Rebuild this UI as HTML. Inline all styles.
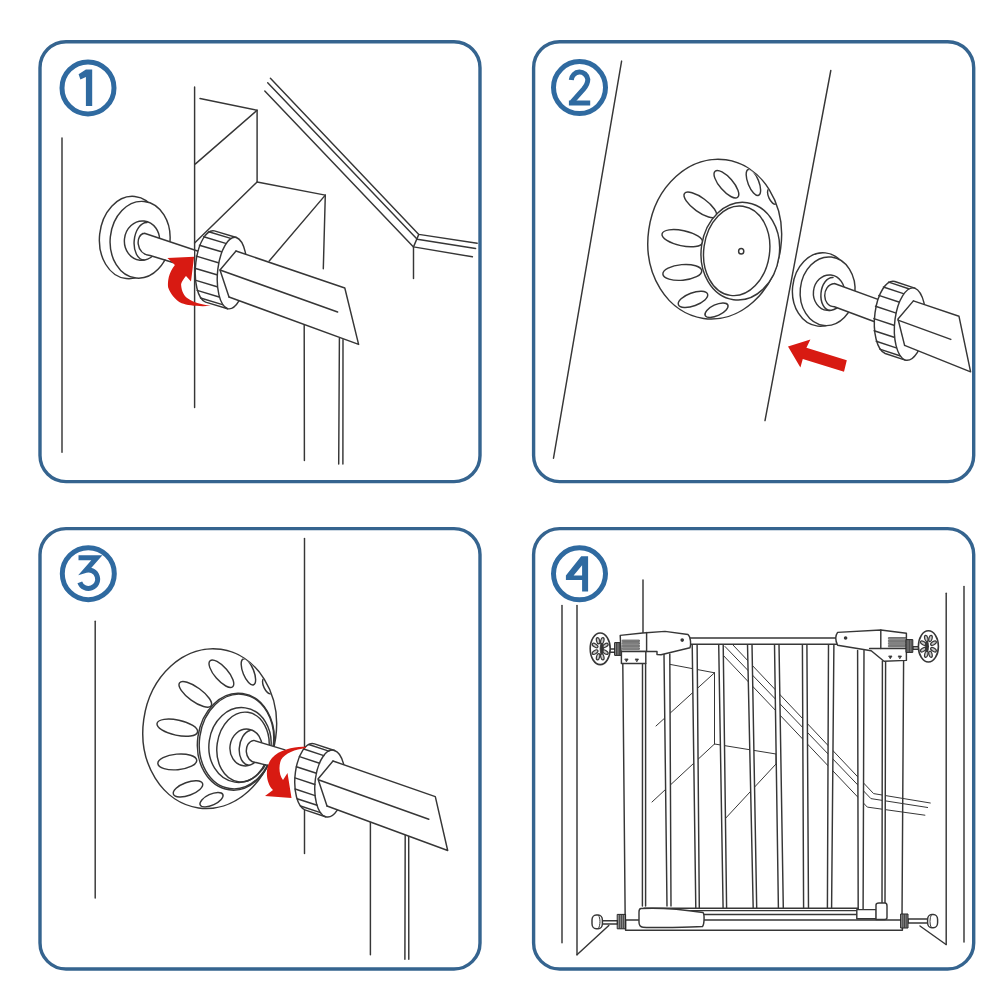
<!DOCTYPE html>
<html><head><meta charset="utf-8"><style>
html,body{margin:0;padding:0;background:#fff;width:1000px;height:1000px;overflow:hidden}
svg{display:block}
</style></head><body>
<svg width="1000" height="1000" viewBox="0 0 1000 1000">
<rect width="1000" height="1000" fill="#fff"/>
<g fill="none" stroke="#35648f" stroke-width="3.4">
<rect x="40" y="41.7" width="440.0" height="439.9" rx="26" ry="26"/>
<rect x="533.6" y="41.7" width="440.1" height="439.9" rx="26" ry="26"/>
<rect x="40" y="528.6" width="440.0" height="440.4" rx="26" ry="26"/>
<rect x="533.6" y="528.6" width="440.1" height="440.4" rx="26" ry="26"/>
<circle cx="88" cy="87.9" r="26" stroke-width="5" stroke="#2f6aa0"/>
<circle cx="579.5" cy="87.6" r="26" stroke-width="5" stroke="#2f6aa0"/>
<circle cx="88.3" cy="573.7" r="26" stroke-width="5" stroke="#2f6aa0"/>
<circle cx="579.5" cy="573.8" r="26" stroke-width="5" stroke="#2f6aa0"/>
</g>
<g fill="#2f6aa0" stroke="none">
<path d="M85.9,69.4 H92.2 V106.0 H85.9 V76.9 L80.4,79.5 L78.6,74.30000000000001 Z"/>
</g>
<g fill="none" stroke="#2f6aa0" stroke-width="5" stroke-linejoin="miter" stroke-miterlimit="6">
<path transform="translate(579.5 87.6)" d="M-8.2,-7.6 A8.3,8.6 0 0 1 8.3,-8.2 C8.3,-4.5 6.8,-2 4.2,1.2 L-7.6,14.6" stroke-linecap="butt"/>
<path transform="translate(579.5 87.6)" fill="#2f6aa0" stroke="none" d="M-10.6,12.9 H10.7 V17.9 H-10.6 Z M-10.6,12.9 L-4.6,12.9 L-10.6,17.9 Z"/>
<path transform="translate(88.3 573.7)" d="M-9.8,-16 H8.6 L-2.5,-3.3 A9.2,9.2 0 1 1 -8.5,8.6"/>
</g>
<path fill="#2f6aa0" fill-rule="evenodd" transform="translate(579.5 573.8)" d="M1.7,-17.6 H8.6 V17.7 H2.6 V6.2 H-13.6 V1.6 Z M2.6,-8.6 V1.6 H-5.9 Z"/>
<g fill="none" stroke="#363636" stroke-width="1.45" stroke-linecap="round" stroke-linejoin="round">
<path d="M62.0,138.0 L62.0,452.2"/>
<path d="M194.6,87.0 L194.6,407.6"/>
<path d="M200.0,98.5 L257.1,110.3 L257.1,182.0 L325.3,195.1 L323.3,268.8"/>
<path d="M257.1,110.3 L195.2,164.1"/>
<path d="M257.1,182.0 L194.6,243.0"/>
<path d="M325.3,195.1 L269.2,261.0"/>
<path d="M270.4,78.3 L418.8,234.4 L477.2,243.2"/>
<path d="M267.7,82.8 L417.2,239.2 L475.6,248.5"/>
<path d="M264.8,91.1 L413.5,246.9 L472.4,256.8"/>
<path d="M418.8,234.4 L413.5,246.9"/>
<path d="M413.5,246.9 L413.5,278.4"/>
<path d="M304.2,325.2 L304.4,460.5"/>
<path d="M339.4,338.4 L338.7,464.0"/>
<path d="M343.0,339.6 L342.9,464.0"/>
<ellipse cx="130.5" cy="237.5" rx="31.0" ry="41.3" transform="rotate(6 130.5 237.5)" fill="#fff"/>
<ellipse cx="140.1" cy="239.8" rx="29.9" ry="38.5" transform="rotate(6 140.1 239.8)" fill="#fff"/>
<ellipse cx="142.0" cy="240.6" rx="17.6" ry="19.7" transform="rotate(6 142.0 240.6)"/>
<path d="M147,222.5 A11,18.3 6 0 0 144,260"/>
<path d="M144.4,233.2 L194,249.7 L194,267 L150.1,255.5 C135,254 135.5,234 144.4,233.2 Z" fill="#fff" stroke="none"/>
<path d="M144.4,233.2 L200.5,252 M150.1,255.5 L173,262.5 M144.4,233.2 C135.5,234 135,254 150.1,255.5"/>
<path d="M214.4,230.9 A15.0,36.0 5 0 0 205.6,302.1 L227.6,308.7 A15.0,36.0 5 0 0 236.4,237.5 Z" fill="#fff"/>
<path d="M236.4,237.5 A15.0,36.0 5 0 0 227.6,308.7"/>
<path d="M208.7,231.8 L230.7,238.4"/>
<path d="M203.7,236.8 L225.7,243.4"/>
<path d="M199.4,245.2 L221.4,251.8"/>
<path d="M196.3,256.1 L218.3,262.7"/>
<path d="M194.8,268.2 L216.8,274.8"/>
<path d="M195.1,280.1 L217.1,286.7"/>
<path d="M197.1,290.4 L219.1,297.0"/>
<path d="M200.5,298.0 L222.5,304.6"/>
<path d="M236,251 L344.8,288 L358.6,344.4 L229,297 Z" fill="#fff" stroke="none"/>
<path d="M236.0,251.0 L344.8,288.0 L358.6,344.4 L229.0,297.0"/>
<path d="M220.0,270.0 L337.6,312.0"/>
<path d="M236.0,251.0 L220.0,270.0 L229.0,297.0"/>
</g>
<path fill="#d81a12" d="M194.1,256.8 L191,281.6 L186,276 C183.6,278.5 181,283 181.1,284.7 C181.5,291 184,296 187.9,298.4 C193,302 200,304 210.8,305.8 C200,307 188,305.5 181.7,303.3 C175,300 170,293 168.1,287.2 C167.5,281 168.5,273 174.9,264.9 L167.4,258.1 Z"/>
<g fill="none" stroke="#363636" stroke-width="1.45" stroke-linecap="round" stroke-linejoin="round">
<path d="M621.6,61.1 L553.5,458.2"/>
<path d="M830.8,70.5 L765.0,420.6"/>
<defs><clipPath id="cup2"><ellipse cx="714.7" cy="239.1" rx="66" ry="79.5" transform="rotate(8 714.7 239.1)"/></clipPath><clipPath id="cup3"><ellipse cx="209.7" cy="728.6" rx="66" ry="79.5" transform="rotate(8 209.7 728.6)"/></clipPath></defs>
<ellipse cx="714.7" cy="239.1" rx="66.6" ry="80.1" transform="rotate(8 714.7 239.1)"/>
<g clip-path="url(#cup2)">
<ellipse cx="726.4" cy="184.2" rx="17.2" ry="6.7" transform="rotate(49 726.4 184.2)"/>
<ellipse cx="753.4" cy="182.4" rx="13.9" ry="5.4" transform="rotate(68 753.4 182.4)"/>
<ellipse cx="772.5" cy="196.5" rx="8.5" ry="3.8" transform="rotate(65 772.5 196.5)"/>
<ellipse cx="700.3" cy="204.9" rx="19.5" ry="7.0" transform="rotate(36 700.3 204.9)"/>
<ellipse cx="682.3" cy="238.2" rx="20.7" ry="7.6" transform="rotate(12 682.3 238.2)"/>
<ellipse cx="682.3" cy="272.4" rx="19.5" ry="7.8" transform="rotate(-5 682.3 272.4)"/>
<ellipse cx="693.0" cy="299.4" rx="15.5" ry="6.5" transform="rotate(-20 693.0 299.4)"/>
<ellipse cx="716.5" cy="310.2" rx="12.5" ry="5.5" transform="rotate(-25 716.5 310.2)"/>
</g>
<ellipse cx="740.3" cy="251.2" rx="39.1" ry="49.0" transform="rotate(8 740.3 251.2)" fill="#fff"/>
<ellipse cx="736.7" cy="250.8" rx="32.9" ry="45.0" transform="rotate(8 736.7 250.8)"/>
<ellipse cx="741.2" cy="251.2" rx="2.6" ry="2.8"/>
<ellipse cx="821.5" cy="289.5" rx="29.0" ry="36.8" transform="rotate(6 821.5 289.5)" fill="#fff"/>
<ellipse cx="827.6" cy="291.3" rx="27.4" ry="34.4" transform="rotate(6 827.6 291.3)" fill="#fff"/>
<ellipse cx="829.0" cy="292.7" rx="15.6" ry="17.8" transform="rotate(6 829.0 292.7)"/>
<path d="M833,277.5 A10.5,16.5 6 0 0 830,310.5"/>
<path d="M834.4,283.5 L880,300.1 L880,323.8 L834.4,306.7 C822,307 821,285 834.4,283.5 Z" fill="#fff" stroke="none"/>
<path d="M834.4,283.5 L880,300.1 M834.4,306.7 L880,323.8 M834.4,283.5 C821,285 822,307 834.4,306.7"/>
<path d="M894.8,281.5 A16.0,36.5 5 0 0 885.2,353.5 L905.2,360.1 A16.0,36.5 5 0 0 914.8,288.1 Z" fill="#fff"/>
<path d="M914.8,288.1 A16.0,36.5 5 0 0 905.2,360.1"/>
<path d="M888.7,282.1 L908.7,288.7"/>
<path d="M883.4,287.0 L903.4,293.6"/>
<path d="M878.8,295.4 L898.8,302.0"/>
<path d="M875.5,306.3 L895.5,312.9"/>
<path d="M873.9,318.6 L893.9,325.2"/>
<path d="M874.1,330.7 L894.1,337.3"/>
<path d="M876.2,341.3 L896.2,347.9"/>
<path d="M879.8,349.1 L899.8,355.7"/>
<path d="M913.4,300.9 L959,316.3 L970.6,371.8 L904.6,345.4 Z" fill="#fff" stroke="none"/>
<path d="M913.4,300.9 L959.0,316.3 L970.6,371.8 L904.6,345.4"/>
<path d="M898.0,320.1 L950.8,339.4"/>
<path d="M913.4,300.9 L898.0,319.0 L904.6,345.4"/>
</g>
<path fill="#d81a12" d="M788,346.6 L810.4,339.4 L806.4,347.8 L846.8,360.2 L844,371.8 L802.8,359 L800.4,367.4 Z"/>
<g fill="none" stroke="#363636" stroke-width="1.45" stroke-linecap="round" stroke-linejoin="round">
<path d="M95.2,621.2 L95.2,898.1"/>
<path d="M304.5,538.4 L304.5,853.5"/>
<path d="M370.4,821.5 L370.4,954.7"/>
<path d="M405.2,835.0 L404.9,959.3"/>
<path d="M408.7,835.5 L408.8,959.3"/>
<g transform="translate(-505 489.5)">
<ellipse cx="714.7" cy="239.1" rx="66.6" ry="80.1" transform="rotate(8 714.7 239.1)"/>
</g>
<g clip-path="url(#cup3)"><g transform="translate(-505 489.5)">
<ellipse cx="726.4" cy="184.2" rx="17.2" ry="6.7" transform="rotate(49 726.4 184.2)"/>
<ellipse cx="753.4" cy="182.4" rx="13.9" ry="5.4" transform="rotate(68 753.4 182.4)"/>
<ellipse cx="772.5" cy="196.5" rx="8.5" ry="3.8" transform="rotate(65 772.5 196.5)"/>
<ellipse cx="700.3" cy="204.9" rx="19.5" ry="7.0" transform="rotate(36 700.3 204.9)"/>
<ellipse cx="682.3" cy="238.2" rx="20.7" ry="7.6" transform="rotate(12 682.3 238.2)"/>
<ellipse cx="682.3" cy="272.4" rx="19.5" ry="7.8" transform="rotate(-5 682.3 272.4)"/>
<ellipse cx="693.0" cy="299.4" rx="15.5" ry="6.5" transform="rotate(-20 693.0 299.4)"/>
<ellipse cx="716.5" cy="310.2" rx="12.5" ry="5.5" transform="rotate(-25 716.5 310.2)"/>
</g></g>
<ellipse cx="235.8" cy="741.7" rx="38.2" ry="48.6" transform="rotate(8 235.8 741.7)" fill="#fff"/>
<ellipse cx="236.5" cy="741.5" rx="37.0" ry="47.5" transform="rotate(8 236.5 741.5)"/>
<ellipse cx="240.0" cy="745.0" rx="31.0" ry="37.5" transform="rotate(8 240.0 745.0)"/>
<ellipse cx="243.0" cy="747.0" rx="26.0" ry="35.0" transform="rotate(8 243.0 747.0)"/>
<ellipse cx="246.0" cy="747.5" rx="16.0" ry="18.5" transform="rotate(8 246.0 747.5)"/>
<path d="M250,730.5 A11,17.5 8 0 0 248,765"/>
<path d="M253.8,740.4 L300,754 L300,770 L255.9,762.5 C244,762 243,742 253.8,740.4 Z" fill="#fff" stroke="none"/>
<path d="M253.8,740.4 L285,749.9 M255.9,762.5 L268.5,765.6 M253.8,740.4 C243,742 244,762 255.9,762.5"/>
<path d="M314.5,743.9 A15.0,33.5 5 0 0 305.5,810.1 L325.5,816.7 A15.0,33.5 5 0 0 334.5,750.5 Z" fill="#fff"/>
<path d="M334.5,750.5 A15.0,33.5 5 0 0 325.5,816.7"/>
<path d="M308.8,744.5 L328.8,751.1"/>
<path d="M303.8,749.0 L323.8,755.6"/>
<path d="M299.5,756.6 L319.5,763.2"/>
<path d="M296.4,766.7 L316.4,773.3"/>
<path d="M294.9,777.9 L314.9,784.5"/>
<path d="M295.1,789.0 L315.1,795.6"/>
<path d="M297.1,798.7 L317.1,805.3"/>
<path d="M300.5,806.0 L320.5,812.6"/>
<path d="M333,761 L435.3,796.6 L447.7,850.5 L327,806 Z" fill="#fff" stroke="none"/>
<path d="M333.0,761.0 L435.3,796.6 L447.7,850.5 L327.0,806.0"/>
<path d="M319.0,780.0 L428.8,819.3"/>
<path d="M333.0,761.0 L318.0,779.0 L327.0,806.0"/>
</g>
<path fill="#d81a12" d="M306,747 C297,746 280,749 272,758 C265,766 265,782 273,790 L265,796 L291.5,798 L287.5,773 L283,780 C279,775 278.5,766 281,760 C285,753 295,749.5 306,748 Z"/>
<g fill="none" stroke="#363636" stroke-width="1.45" stroke-linecap="round" stroke-linejoin="round">
<path d="M562.0,605.5 L562.0,942.8"/>
<path d="M577.0,605.5 L577.0,954.8"/>
<path d="M946.2,593.3 L946.2,944.5"/>
<path d="M964.0,586.5 L964.0,942.0"/>
<path d="M643.0,580.0 L643.0,633.0"/>
<path d="M608.8,925.5 L577.0,954.8"/>
<path d="M920.0,926.0 L946.0,944.5"/>
<g stroke-width="1">
<path d="M668.0,664.0 L714.5,672.8"/>
<path d="M714.5,672.8 L656.0,726.0"/>
<path d="M714.5,672.8 L714.5,744.0"/>
<path d="M714.5,744.0 L776.0,754.0"/>
<path d="M776.0,754.0 L776.0,764.0"/>
<path d="M714.5,744.0 L652.0,802.0"/>
<path d="M776.0,764.0 L724.0,820.0"/>
<path d="M733.0,645.0 L873.6,793.6 L930.3,803.0"/>
<path d="M725.0,646.5 L870.9,798.6 L927.6,807.5"/>
<path d="M723.2,655.3 L867.3,807.1 L924.9,815.2"/>
</g>
<path d="M622.8,664.0 L625.2,920.0"/>
<path d="M903.6,661.0 L902.0,919.4"/>
<path d="M642.5,663.5 L645.6,663.5 L645.6,906 L642.4,906 Z" fill="#fff" stroke="none"/>
<path d="M642.5,663.5 L642.4,906.0"/>
<path d="M645.6,663.5 L645.6,906.0"/>
<path d="M664,654 L669.8,654 L671,906 L667,906 Z" fill="#fff" stroke="none"/>
<path d="M664.0,654.0 L667.0,906.0"/>
<path d="M669.8,654.0 L671.0,906.0"/>
<path d="M692.2,644 L697.1,644 L699.3,908 L695.8,908 Z" fill="#fff" stroke="none"/>
<path d="M692.2,644.0 L695.8,908.0"/>
<path d="M697.1,644.0 L699.3,908.0"/>
<path d="M718.7,644 L723.2,644 L726.6,908 L723.1,908 Z" fill="#fff" stroke="none"/>
<path d="M718.7,644.0 L723.1,908.0"/>
<path d="M723.2,644.0 L726.6,908.0"/>
<path d="M747.5,644 L752,644 L756.7,908 L753.2,908 Z" fill="#fff" stroke="none"/>
<path d="M747.5,644.0 L753.2,908.0"/>
<path d="M752.0,644.0 L756.7,908.0"/>
<path d="M774.5,644 L779,644 L783.3,908 L778.4,908 Z" fill="#fff" stroke="none"/>
<path d="M774.5,644.0 L778.4,908.0"/>
<path d="M779.0,644.0 L783.3,908.0"/>
<path d="M802.4,644 L806.9,644 L808.5,908 L803.6,908 Z" fill="#fff" stroke="none"/>
<path d="M802.4,644.0 L803.6,908.0"/>
<path d="M806.9,644.0 L808.5,908.0"/>
<path d="M828.5,644 L833.9,644 L831.6,908 L827.4,908 Z" fill="#fff" stroke="none"/>
<path d="M828.5,644.0 L827.4,908.0"/>
<path d="M833.9,644.0 L831.6,908.0"/>
<path d="M857.6,650.5 L864,650.5 L863.1,909.6 L858.2,909.6 Z" fill="#fff" stroke="none"/>
<path d="M857.6,650.5 L858.2,909.6"/>
<path d="M864.0,650.5 L863.1,909.6"/>
<path d="M882.4,661 L885.6,661 L885,904 L882,904 Z" fill="#fff" stroke="none"/>
<path d="M882.4,661.0 L882.0,904.0"/>
<path d="M885.6,661.0 L885.0,904.0"/>
<path d="M689,638 H838.4 V644.3 H689 Z" fill="#fff"/>
<path d="M644,908.2 H858 V914.5 H644 Z" fill="#fff" stroke="none"/>
<path d="M644.0,908.2 L858.0,908.2"/>
<path d="M644.0,910.6 L858.0,910.6"/>
<path d="M700.0,914.5 L857.0,914.5"/>
<path d="M625.6,920 H902.4 V930.2 H625.6 Z" fill="#fff"/>
<path d="M641,908.5 C660,907.5 680,909 703,912.5 C704.5,914 704.5,924 702.5,926.5 C690,927.5 655,927.8 643,927.2 C639.5,927 639,925 639,922 V912 C639,909.5 640,908.6 641,908.5 Z" fill="#fff"/>
<rect x="856.8" y="909.6" width="19.6" height="9.1" fill="#fff"/>
<path d="M876,905 C876,903.5 877,903 879,903 H885 C886.5,903 887,904 887,906 V917.5 C887,919 886,919.4 884.5,919.4 H876 Z" fill="#fff"/>
<rect x="600" y="920.8" width="17.6" height="3.2" fill="#fff"/>
<rect x="617.6" y="914.4" width="8" height="14.4" fill="#8a8a8a" stroke="#222" stroke-width="1"/>
<path d="M619.6,914.9 L619.6,928.3" stroke-width="0.8"/>
<path d="M621.6,914.9 L621.6,928.3" stroke-width="0.8"/>
<path d="M623.6,914.9 L623.6,928.3" stroke-width="0.8"/>
<rect x="592" y="915" width="10.4" height="13.8" rx="4.2" ry="5" fill="#fff"/>
<path d="M598.6,915.6 C600.5,918 600.5,925 598.6,928.2" stroke-width="1"/>
<rect x="908" y="919" width="21" height="4" fill="#fff"/>
<rect x="901" y="914" width="7" height="14" fill="#8a8a8a" stroke="#222" stroke-width="1"/>
<path d="M902.8,914.5 L902.8,927.5" stroke-width="0.8"/>
<path d="M904.5,914.5 L904.5,927.5" stroke-width="0.8"/>
<path d="M906.2,914.5 L906.2,927.5" stroke-width="0.8"/>
<rect x="927.6" y="914.4" width="10" height="13.4" rx="4.2" ry="5" fill="#fff"/>
<path d="M931.2,915 C929.5,918 929.5,925 931.2,927.4" stroke-width="1"/>
<rect x="606" y="649" width="10" height="3.2" fill="#fff"/>
<ellipse cx="600.2" cy="648.8" rx="10.0" ry="15.8" stroke-width="1.6" fill="#fff"/>
<ellipse cx="605.3" cy="652.1" rx="3.2" ry="1.6" transform="rotate(33.20303935986711 605.3 652.1)" stroke-width="1.2" fill="#c8c8c8"/>
<ellipse cx="602.3" cy="656.8" rx="3.2" ry="1.6" transform="rotate(75.30989651818464 602.3 656.8)" stroke-width="1.2" fill="#c8c8c8"/>
<ellipse cx="598.1" cy="656.8" rx="3.2" ry="1.6" transform="rotate(104.69010348181536 598.1 656.8)" stroke-width="1.2" fill="#c8c8c8"/>
<ellipse cx="595.1" cy="652.1" rx="3.2" ry="1.6" transform="rotate(146.79696064013288 595.1 652.1)" stroke-width="1.2" fill="#c8c8c8"/>
<ellipse cx="595.1" cy="645.5" rx="3.2" ry="1.6" transform="rotate(-146.7969606401329 595.1 645.5)" stroke-width="1.2" fill="#c8c8c8"/>
<ellipse cx="598.1" cy="640.8" rx="3.2" ry="1.6" transform="rotate(-104.69010348181536 598.1 640.8)" stroke-width="1.2" fill="#c8c8c8"/>
<ellipse cx="602.3" cy="640.8" rx="3.2" ry="1.6" transform="rotate(-75.30989651818463 602.3 640.8)" stroke-width="1.2" fill="#c8c8c8"/>
<ellipse cx="605.3" cy="645.5" rx="3.2" ry="1.6" transform="rotate(-33.2030393598671 605.3 645.5)" stroke-width="1.2" fill="#c8c8c8"/>
<ellipse cx="601.7" cy="648.8" rx="1.6" ry="5.5" stroke-width="0.8" fill="#333"/>
<rect x="615" y="642.6" width="6" height="12.8" fill="#8a8a8a" stroke="#222" stroke-width="1"/>
<path d="M616.5,643.1 L616.5,654.9" stroke-width="0.8"/>
<path d="M618.0,643.1 L618.0,654.9" stroke-width="0.8"/>
<path d="M619.5,643.1 L619.5,654.9" stroke-width="0.8"/>
<path d="M620.2,635.4 L642.6,633 L665,631.4 L688,634.5 C691,637 691,645 690,647.8 L661,654.8 L657,654.6 V651.4 H621 Z" fill="#fff"/>
<path d="M646.6,632.5 L646.6,651.4"/>
<rect x="621.4" y="651.4" width="24.4" height="12" fill="#fff"/>
<path d="M625.1,659 L628.1,659 L626.6,661.5 Z" fill="#333" stroke="#333" stroke-width="0.8"/>
<path d="M635.5,659 L638.5,659 L637,661.5 Z" fill="#333" stroke="#333" stroke-width="0.8"/>
<rect x="622.6" y="640.0" width="16.8" height="1.6" fill="#999" stroke="#333" stroke-width="0.6"/>
<rect x="622.6" y="642.6" width="16.8" height="1.6" fill="#999" stroke="#333" stroke-width="0.6"/>
<rect x="622.6" y="645.2" width="16.8" height="1.6" fill="#999" stroke="#333" stroke-width="0.6"/>
<rect x="622.6" y="647.8" width="16.8" height="1.6" fill="#999" stroke="#333" stroke-width="0.6"/>
<ellipse cx="682.2" cy="640.1" rx="1.1" ry="1.1" fill="#333"/>
<path d="M837.6,632.4 L880.8,630 L906.4,633.2 V660.4 L884,661.2 L871.2,650.8 L837.6,645.2 C835,640 835,636 837.6,632.4 Z" fill="#fff"/>
<path d="M880.8,630.0 L880.8,648.4"/>
<path d="M869.6,648.4 L906.4,648.4"/>
<path d="M889.0,656 L892.0,656 L890.5,658.5 Z" fill="#333" stroke="#333" stroke-width="0.8"/>
<path d="M898.5,656 L901.5,656 L900,658.5 Z" fill="#333" stroke="#333" stroke-width="0.8"/>
<rect x="888.8" y="637.5" width="17.6" height="1.6" fill="#999" stroke="#333" stroke-width="0.6"/>
<rect x="888.8" y="640.1" width="17.6" height="1.6" fill="#999" stroke="#333" stroke-width="0.6"/>
<rect x="888.8" y="642.7" width="17.6" height="1.6" fill="#999" stroke="#333" stroke-width="0.6"/>
<rect x="888.8" y="645.3" width="17.6" height="1.6" fill="#999" stroke="#333" stroke-width="0.6"/>
<ellipse cx="845.6" cy="638.0" rx="1.1" ry="1.1" fill="#333"/>
<rect x="912.8" y="646.8" width="8" height="2.4" fill="#fff"/>
<rect x="906.4" y="639.6" width="6.4" height="12.8" fill="#8a8a8a" stroke="#222" stroke-width="1"/>
<path d="M908.0,640.1 L908.0,651.9" stroke-width="0.8"/>
<path d="M909.6,640.1 L909.6,651.9" stroke-width="0.8"/>
<path d="M911.2,640.1 L911.2,651.9" stroke-width="0.8"/>
<ellipse cx="928.4" cy="646.4" rx="10.0" ry="15.6" stroke-width="1.6" fill="#fff"/>
<ellipse cx="933.5" cy="649.7" rx="3.2" ry="1.6" transform="rotate(32.86945948081166 933.5 649.7)" stroke-width="1.2" fill="#c8c8c8"/>
<ellipse cx="930.5" cy="654.3" rx="3.2" ry="1.6" transform="rotate(75.12985665317339 930.5 654.3)" stroke-width="1.2" fill="#c8c8c8"/>
<ellipse cx="926.3" cy="654.3" rx="3.2" ry="1.6" transform="rotate(104.87014334682662 926.3 654.3)" stroke-width="1.2" fill="#c8c8c8"/>
<ellipse cx="923.3" cy="649.7" rx="3.2" ry="1.6" transform="rotate(147.13054051918834 923.3 649.7)" stroke-width="1.2" fill="#c8c8c8"/>
<ellipse cx="923.3" cy="643.1" rx="3.2" ry="1.6" transform="rotate(-147.13054051918834 923.3 643.1)" stroke-width="1.2" fill="#c8c8c8"/>
<ellipse cx="926.3" cy="638.5" rx="3.2" ry="1.6" transform="rotate(-104.87014334682661 926.3 638.5)" stroke-width="1.2" fill="#c8c8c8"/>
<ellipse cx="930.5" cy="638.5" rx="3.2" ry="1.6" transform="rotate(-75.12985665317338 930.5 638.5)" stroke-width="1.2" fill="#c8c8c8"/>
<ellipse cx="933.5" cy="643.1" rx="3.2" ry="1.6" transform="rotate(-32.869459480811656 933.5 643.1)" stroke-width="1.2" fill="#c8c8c8"/>
<ellipse cx="926.9" cy="646.4" rx="1.6" ry="5.5" stroke-width="0.8" fill="#333"/>
</g>
</svg>
</body></html>
